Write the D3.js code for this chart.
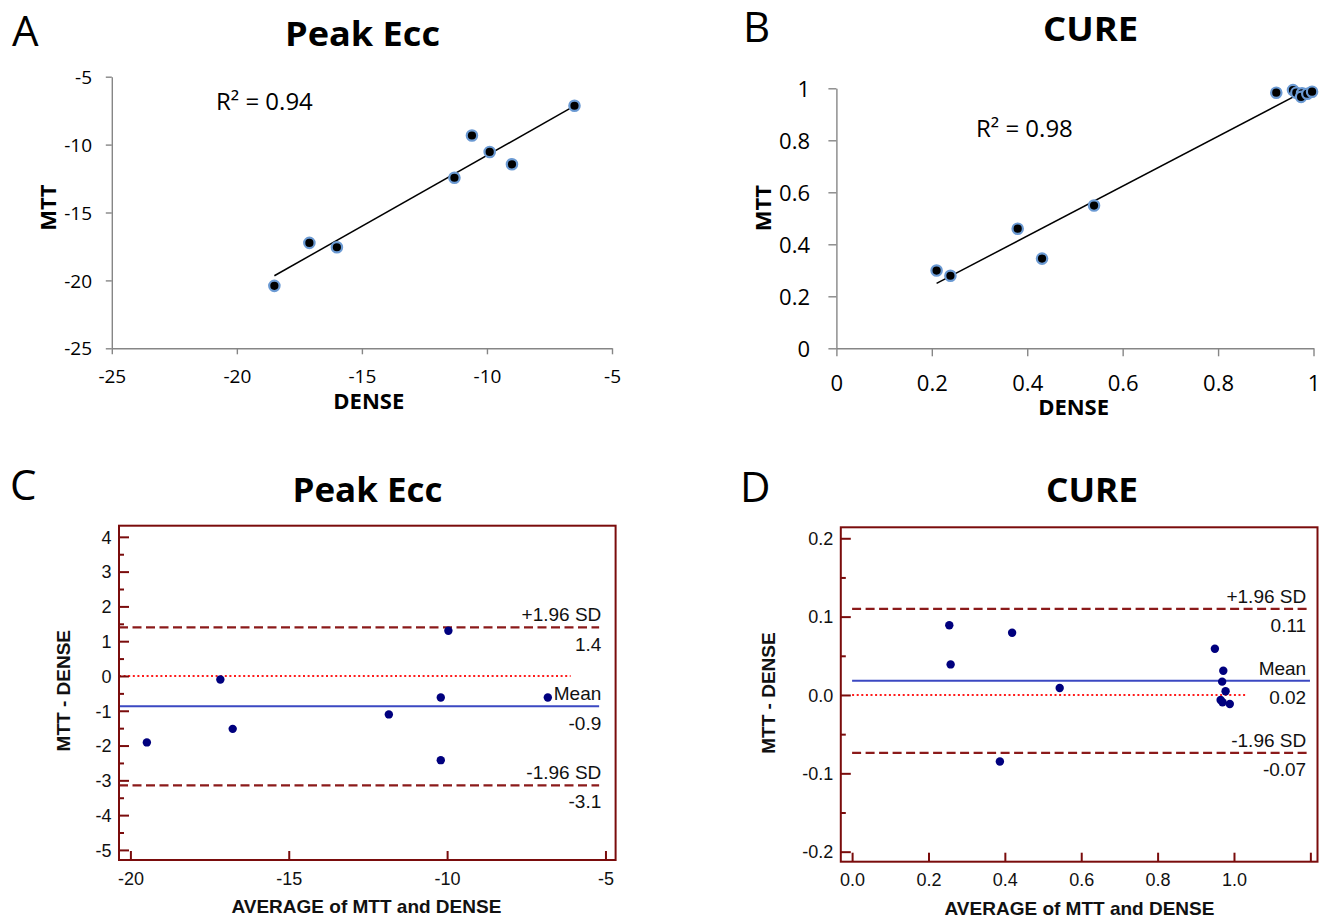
<!DOCTYPE html>
<html>
<head>
<meta charset="utf-8">
<script src="https://cdn.jsdelivr.net/npm/d3@7"></script>
<style>
  html, body { margin: 0; padding: 0; background: #fff; }
  svg { display: block; }
</style>
</head>
<body>
<svg id="fig" width="1334" height="922"></svg>
<script>
// ---------- data ----------
// A: Peak Ecc, DENSE (x) vs MTT (y)
const eccDense = [-18.5, -17.1, -16.0, -11.3, -10.6, -9.89, -9.0, -6.5];
const eccMtt   = [-20.4, -17.24, -17.56, -12.44, -9.33, -10.54, -11.45, -7.14];
const eccTicks = [-25, -20, -15, -10, -5];
const eccTickLabels = ["-25", "-20", "-15", "-10", "-5"];

// B: CURE, DENSE (x) vs MTT (y)
const cureDense = [0.21, 0.239, 0.38, 0.431, 0.54, 0.922, 0.957, 0.964, 0.976, 0.974, 0.987, 0.997];
const cureMtt   = [0.299, 0.279, 0.46, 0.345, 0.549, 0.983, 0.993, 0.983, 0.981, 0.967, 0.979, 0.987];
const cureTicks = [0, 0.2, 0.4, 0.6, 0.8, 1];
const cureTickLabels = ["0", "0.2", "0.4", "0.6", "0.8", "1"];

// C: Bland-Altman, Peak Ecc
const eccAvg  = [-19.48, -17.16, -16.77, -11.84, -10.20, -9.96, -10.20, -6.82];
const eccDiff = [-1.91, -0.10, -1.52, -1.105, -0.617, 1.30, -2.42, -0.617];
const eccBaXTicks = [-20, -15, -10, -5];
const eccBaXLabels = ["-20", "-15", "-10", "-5"];
const eccBaYTicks = [-5, -4, -3, -2, -1, 0, 1, 2, 3, 4];
const eccBaYLabels = ["-5", "-4", "-3", "-2", "-1", "0", "1", "2", "3", "4"];
const eccBaYMinor = [-4.5, -3.5, -2.5, -1.5, -0.5, 0.5, 1.5, 2.5, 3.5];

// D: Bland-Altman, CURE
const cureAvg  = [0.2545, 0.258, 0.419, 0.387, 0.5436, 0.950, 0.972, 0.969, 0.978, 0.965, 0.970, 0.989];
const cureDiff = [0.089, 0.039, 0.0795, -0.085, 0.0089, 0.059, 0.031, 0.017, 0.0047, -0.0064, -0.0093, -0.0115];
const cureBaXTicks = [0, 0.2, 0.4, 0.6, 0.8, 1.0, 1.2];
const cureBaXLabels = ["0.0", "0.2", "0.4", "0.6", "0.8", "1.0", ""];
const cureBaYTicks = [-0.2, -0.1, 0, 0.1, 0.2];
const cureBaYLabels = ["-0.2", "-0.1", "0.0", "0.1", "0.2"];
const cureBaYMinor = [-0.15, -0.05, 0.05, 0.15];

// ---------- helpers ----------
const svg = d3.select("#fig");
svg.append("rect").attr("width", 1334).attr("height", 922).attr("fill", "#fff");

const loc = d3.formatLocale({ decimal: ".", thousands: ",", grouping: [3], currency: ["", ""], minus: "-" });
const fmt1 = loc.format(".1f"), fmt2 = loc.format(".2f");

const SANS = "'Open Sans', 'Noto Sans', sans-serif";
const ARIAL = "'Liberation Sans', Arial, sans-serif";

function regression(xs, ys) {
  const mx = d3.mean(xs), my = d3.mean(ys);
  let sxy = 0, sxx = 0, syy = 0;
  xs.forEach((x, i) => {
    const dx = x - mx, dy = ys[i] - my;
    sxy += dx * dy; sxx += dx * dx; syy += dy * dy;
  });
  const slope = sxy / sxx;
  return { slope, intercept: my - slope * mx, r2: (sxy * sxy) / (sxx * syy) };
}

function text(g, str, x, y, opts) {
  const t = g.append("text").attr("x", x).attr("y", y).text(str)
    .style("font-family", opts.family || SANS)
    .style("font-size", opts.size + "px")
    .style("font-weight", opts.weight || "normal")
    .attr("fill", opts.fill || "#000")
    .attr("text-anchor", opts.anchor || "start");
  if (opts.dy) t.attr("dy", opts.dy);
  if (opts.rotate) t.attr("transform", `rotate(${opts.rotate},${x},${y})`);
  if (opts.length) t.attr("textLength", opts.length).attr("lengthAdjust", "spacingAndGlyphs");
  return t;
}

// ---------- Excel-style scatter with linear trend ----------
function scatterPanel(c) {
  const g = svg.append("g");
  const xAxis = d3.axisBottom(c.x).tickValues(c.xTicks).tickFormat((d, i) => c.xLabels[i])
    .tickSizeInner(c.tick).tickSizeOuter(0);
  const yAxis = d3.axisLeft(c.y).tickValues(c.yTicks).tickFormat((d, i) => c.yLabels[i])
    .tickSizeInner(c.tick).tickSizeOuter(0);
  const gx = g.append("g").attr("transform", `translate(0,${c.y.range()[0]})`).call(xAxis);
  const gy = g.append("g").attr("transform", `translate(${c.x.range()[0]},0)`).call(yAxis);
  [gx, gy].forEach(a => {
    a.select(".domain").attr("stroke", "#868686").attr("stroke-width", 1.4);
    a.selectAll(".tick line").attr("stroke", "#868686").attr("stroke-width", 1.4);
    a.selectAll(".tick text").attr("fill", "#000")
      .style("font-family", SANS).style("font-size", c.font + "px");
  });
  gx.selectAll(".tick text").attr("y", c.xLabelOff).attr("dy", "0.35em");
  gy.selectAll(".tick text").attr("x", -c.yLabelOff).attr("dy", "0.35em");

  const reg = regression(c.xs, c.ys);
  const x0 = d3.min(c.xs), x1 = d3.max(c.xs);
  g.append("line")
    .attr("x1", c.x(x0)).attr("y1", c.y(reg.intercept + reg.slope * x0))
    .attr("x2", c.x(x1)).attr("y2", c.y(reg.intercept + reg.slope * x1))
    .attr("stroke", "#000").attr("stroke-width", 1.5);

  g.selectAll("circle.pt").data(c.xs.map((v, i) => [v, c.ys[i]])).join("circle")
    .attr("class", "pt")
    .attr("cx", d => c.x(d[0])).attr("cy", d => c.y(d[1])).attr("r", 5.2)
    .attr("fill", "#000").attr("stroke", "#6b9ad3").attr("stroke-width", 2.2);

  text(g, "R\u00B2 = " + fmt2(reg.r2), c.r2x, c.r2y, { size: 24 });
  text(g, "DENSE", c.xTitle[0], c.xTitle[1], { size: 22, weight: "bold", anchor: "middle", dy: "0.35em" });
  text(g, "MTT", c.yTitle[0], c.yTitle[1], { size: 22, weight: "bold", anchor: "middle", dy: "0.35em", rotate: -90 });
}

// ---------- Bland-Altman panel ----------
function baPanel(c) {
  const g = svg.append("g");
  const [bx0, bx1] = c.x.range();
  const [by0, by1] = c.y.range(); // bottom, top
  const mean = d3.mean(c.diff);
  const sd = d3.deviation(c.diff);
  const hi = mean + 1.96 * sd, lo = mean - 1.96 * sd;

  const hline = (v, from, to) => g.append("line")
    .attr("x1", c.x(from)).attr("x2", c.x(to)).attr("y1", c.y(v)).attr("y2", c.y(v));

  hline(0, c.lineFrom, c.zeroTo).attr("stroke", "#ff1c1c").attr("stroke-width", 2)
    .attr("stroke-dasharray", "2,2.6");
  [hi, lo].forEach(v => hline(v, c.lineFrom, c.lineTo).attr("stroke", "#8b1a1a")
    .attr("stroke-width", 2.4).attr("stroke-dasharray", "9,4.5"));
  hline(mean, c.lineFrom, c.lineTo).attr("stroke", "#3b48c2").attr("stroke-width", 2);

  const lab = (str, v, off) => text(g, str, c.labelX, c.y(v) + off,
    { family: ARIAL, size: 19, anchor: "end", dy: "0.35em", fill: "#111" });
  lab("+1.96 SD", hi, -13); lab(c.fmt(hi), hi, 16.5);
  lab("Mean", mean, -13);   lab(c.fmt(mean), mean, 16.5);
  lab("-1.96 SD", lo, -13); lab(c.fmt(lo), lo, 16.5);

  g.selectAll("circle.pt").data(c.avg.map((v, i) => [v, c.diff[i]])).join("circle")
    .attr("class", "pt")
    .attr("cx", d => c.x(d[0])).attr("cy", d => c.y(d[1])).attr("r", 4.2)
    .attr("fill", "#00007e");

  g.append("rect").attr("x", bx0).attr("y", by1).attr("width", bx1 - bx0).attr("height", by0 - by1)
    .attr("fill", "none").attr("stroke", "#7a0c0c").attr("stroke-width", 2);

  const tickCol = "#7a0c0c";
  const gy = g.append("g").attr("transform", `translate(${bx0},0)`)
    .call(d3.axisLeft(c.y).tickValues(c.yTicks).tickFormat((d, i) => c.yLabels[i])
      .tickSizeInner(-10).tickSizeOuter(0).tickPadding(7.5));
  const gym = g.append("g").attr("transform", `translate(${bx0},0)`)
    .call(d3.axisLeft(c.y).tickValues(c.yMinor).tickFormat("").tickSizeInner(-5).tickSizeOuter(0));
  const gx = g.append("g").attr("transform", `translate(0,${by0})`)
    .call(d3.axisBottom(c.x).tickValues(c.xTicks).tickFormat((d, i) => c.xLabels[i])
      .tickSizeInner(-9).tickSizeOuter(0));
  [gy, gym, gx].forEach(a => {
    a.select(".domain").remove();
    a.selectAll(".tick line").attr("stroke", tickCol).attr("stroke-width", 2);
    a.selectAll(".tick text").attr("fill", "#111")
      .style("font-family", ARIAL).style("font-size", "18px");
  });
  gy.selectAll(".tick text").attr("dy", "0.35em");
  gx.selectAll(".tick text").attr("y", 18.3).attr("dy", "0.35em");

  text(g, "AVERAGE of MTT and DENSE", c.xTitle[0], c.xTitle[1],
    { family: ARIAL, size: 19, weight: "bold", anchor: "middle", dy: "0.35em", fill: "#111" });
  text(g, "MTT - DENSE", c.yTitle[0], c.yTitle[1],
    { family: ARIAL, size: 19, weight: "bold", anchor: "middle", dy: "0.35em", rotate: -90, fill: "#111" });
}

// ---------- panel letters and titles ----------
const headG = svg.append("g");
[["A", 12, 46], ["B", 743, 42], ["C", 10, 500], ["D", 740, 502]].forEach(([s, x, y]) =>
  text(headG, s, x, y, { size: 42 }));
[["Peak Ecc", 362.5, 46, 155], ["CURE", 1090.5, 41, 95], ["Peak Ecc", 367.5, 502, 150], ["CURE", 1092, 502, 92]]
  .forEach(([s, x, y, len]) => text(headG, s, x, y, { size: 34, weight: "bold", anchor: "middle", length: len }));

// ---------- draw ----------
scatterPanel({
  x: d3.scaleLinear([-25, -5], [111.8, 612]),
  y: d3.scaleLinear([-25, -5], [348.3, 76.7]),
  xTicks: eccTicks, xLabels: eccTickLabels, yTicks: eccTicks, yLabels: eccTickLabels,
  xs: eccDense, ys: eccMtt,
  tick: 6, font: 19, xLabelOff: 28, yLabelOff: 19.8,
  r2x: 216, r2y: 110, xTitle: [368.8, 401], yTitle: [48.3, 207.5]
});

scatterPanel({
  x: d3.scaleLinear([0, 1], [836.4, 1313.5]),
  y: d3.scaleLinear([0, 1], [348.3, 88.3]),
  xTicks: cureTicks, xLabels: cureTickLabels, yTicks: cureTicks, yLabels: cureTickLabels,
  xs: cureDense, ys: cureMtt,
  tick: 8, font: 22, xLabelOff: 34.7, yLabelOff: 26.4,
  r2x: 976, r2y: 137, xTitle: [1073.6, 407.5], yTitle: [763.3, 208]
});

baPanel({
  x: d3.scaleLinear([-20.36, -4.68], [119, 615.6]),
  y: d3.scaleLinear([-5.29, 4.32], [860, 525.7]),
  avg: eccAvg, diff: eccDiff,
  xTicks: eccBaXTicks, xLabels: eccBaXLabels,
  yTicks: eccBaYTicks, yLabels: eccBaYLabels, yMinor: eccBaYMinor,
  lineFrom: -20.36, lineTo: -5.2, zeroTo: -6.1, labelX: 601.3, fmt: fmt1,
  xTitle: [366.4, 906.7], yTitle: [63.3, 690.7]
});

baPanel({
  x: d3.scaleLinear([-0.0296, 1.2187], [840.8, 1317.5]),
  y: d3.scaleLinear([-0.2128, 0.214], [861.7, 527.3]),
  avg: cureAvg, diff: cureDiff,
  xTicks: cureBaXTicks, xLabels: cureBaXLabels,
  yTicks: cureBaYTicks, yLabels: cureBaYLabels, yMinor: cureBaYMinor,
  lineFrom: 0, lineTo: 1.199, zeroTo: 1.031, labelX: 1306.2, fmt: fmt2,
  xTitle: [1079.5, 908.3], yTitle: [768, 693]
});
</script>
</body>
</html>
